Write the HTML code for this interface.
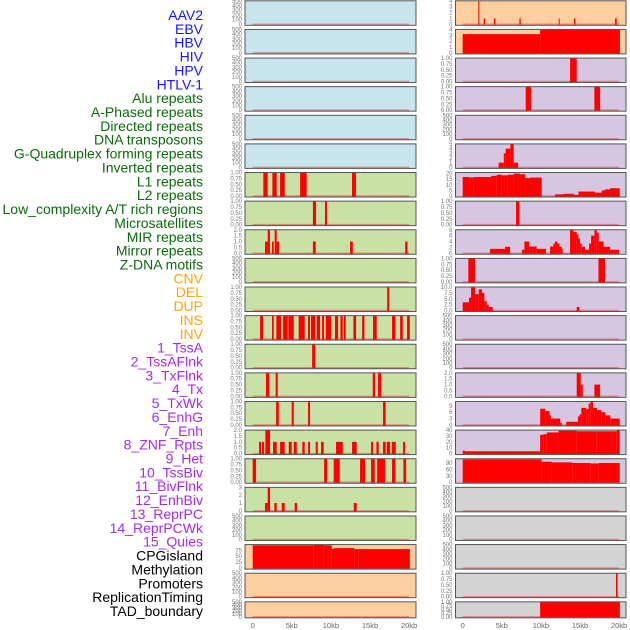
<!DOCTYPE html>
<html><head><meta charset="utf-8"><style>
html,body{margin:0;padding:0;background:#fff;width:630px;height:630px;overflow:hidden}
svg{display:block}
.lbl{font-family:"Liberation Sans",sans-serif;font-size:14px}
.tk{font-family:"Liberation Sans",sans-serif;font-size:6px;fill:#777}
.xt{font-family:"Liberation Sans",sans-serif;font-size:7.5px;fill:#666}
</style></head><body>
<svg id="chart" width="630" height="630" viewBox="0 0 630 630"></svg>
<script>
const NS='http://www.w3.org/2000/svg';
const svg=document.getElementById('chart');

const labelTexts=['AAV2','EBV','HBV','HIV','HPV','HTLV-1','Alu repeats','A-Phased repeats','Directed repeats','DNA transposons','G-Quadruplex forming repeats','Inverted repeats','L1 repeats','L2 repeats','Low_complexity A/T rich regions','Microsatellites','MIR repeats','Mirror repeats','Z-DNA motifs','CNV','DEL','DUP','INS','INV','1_TssA','2_TssAFlnk','3_TxFlnk','4_Tx','5_TxWk','6_EnhG','7_Enh','8_ZNF_Rpts','9_Het','10_TssBiv','11_BivFlnk','12_EnhBiv','13_ReprPC','14_ReprPCWk','15_Quies','CPGisland','Methylation','Promoters','ReplicationTiming','TAD_boundary'];
const labelGroups=[6,13,5,15,5];
const groupColors=['#1515ff','#0b6b0b','#ffa500','#a52af0','#000000'];

const xTicks=[0,5,10,15,20];
const xTickLabels=['0','5kb','10kb','15kb','20kb'];

// left column tracks: [start kb, end kb, value]
const L0=[],L1=[],L2=[],L3=[],L4=[],L5=[];
const L6=[[1.36,1.92,1],[2.52,3.07,1],[3.5,4.1,1],[6.06,6.9,1],[12.7,13.2,1]];
const L7=[[7.7,8.1,1],[9.25,9.5,1]];
const L8=[[1.58,1.92,1],[1.92,2.2,2],[2.47,2.69,1],[2.81,3.07,2],[3.07,3.37,1],[7.7,8.06,1],[12.45,12.8,1],[19.5,19.8,1]];
const L9=[];
const L10=[[17.2,17.45,1]];
const L11=[[0.94,1.32,1],[2.47,2.69,1],[3.03,3.62,1],[3.88,4.48,1],[4.56,5.25,1],[5.88,6.65,1],[7.08,7.33,1],[7.46,8.02,1],[8.19,8.61,1],[8.87,9.13,1],[9.34,10.02,1],[10.53,10.92,1],[11.22,11.51,1],[11.64,11.9,1],[12.88,13.22,1],[13.99,14.29,1],[15.39,15.86,1],[17.82,18.25,1],[18.85,19.19,1],[19.74,20.09,1]];
const L12=[[7.6,8.0,1]];
const L13=[[1.7,2.1,1],[2.94,3.2,1],[15.35,15.65,1],[16.03,16.42,1]];
const L14=[[2.99,3.33,1],[4.99,5.25,1],[7.08,7.33,1],[16.67,17.0,1]];
const L15=[[0.81,1.07,1],[1.19,1.45,1],[1.62,2.22,2],[2.6,3.07,1],[3.5,4.09,1],[4.61,4.99,1],[5.25,5.63,1],[6.35,6.65,1],[7.08,7.33,1],[8.06,8.32,1],[8.74,9.08,1],[10.66,11.51,1],[12.71,13.3,1],[15.14,15.39,1],[15.82,16.12,1],[16.67,17.01,1],[17.14,17.57,1],[17.78,18.29,1],[19.23,19.49,1]];
const L16=[[0,0.43,1],[9.13,9.51,1],[10.36,11.13,1],[13.73,14.37,1],[15.14,15.61,1],[15.91,16.93,1],[17.82,18.25,1],[19.27,19.62,1]];
const L17=[[1.58,1.92,1],[1.92,2.22,3],[2.77,3.07,1],[3.71,4.09,1],[5.37,5.67,1],[12.92,13.3,1]];
const L18=[];
const L19=[[0,7.8,96],[7.8,9.1,99],[9.1,10.1,96],[10.1,10.4,81],[10.4,13.0,84],[13.0,13.5,80],[13.5,20.1,80]];
const L20=[],L21=[];

// right column tracks
const R0=[[2.0,2.13,4],[2.69,2.86,1],[4.0,4.18,1],[7.25,7.42,1],[12.28,12.4,1],[14.24,14.41,1],[19.49,19.7,1]];
const R1=[[0,9.9,3.2],[9.9,20.1,4]];
const R2=[[13.73,14.58,1]];
const R3=[[8.06,8.74,1],[16.84,17.57,1]];
const R4=[];
const R5=[[4.6,5.25,1],[5.25,5.5,3],[5.5,6.1,4],[6.1,6.52,5],[6.52,7.08,1]];
const R6=[[0,0.81,17],[0.81,1.36,16.5],[1.36,3.62,17],[3.62,4.35,18],[4.35,4.99,19],[4.99,5.76,18.5],[5.76,6.48,19],[6.48,7.33,20],[7.33,8.02,19.5],[8.02,8.61,16],[8.61,10.1,16.5],[11.81,12.88,1.5],[12.88,14.24,2],[14.24,14.8,1],[14.8,16.93,4],[16.93,17.78,3],[17.78,18.2,5],[18.2,18.85,6],[18.85,20.08,7]];
const R7=[[6.82,7.25,1]];
const R8=[[3.5,5.42,1.5],[5.42,6.06,2.2],[7.59,7.89,1.2],[7.89,8.49,4],[8.49,8.96,2.3],[8.96,9.47,2.3],[9.47,10.66,1.5],[11.17,11.6,2.3],[11.6,11.81,3.3],[11.81,12.11,4],[12.11,12.37,3.3],[12.37,12.67,2.2],[12.67,12.79,1.5],[13.73,14.16,8],[14.16,14.58,7.3],[14.58,14.8,6.5],[14.8,15.01,5],[15.01,15.22,3.3],[15.22,15.65,2.2],[15.65,16.16,1.2],[16.16,16.42,3.3],[16.42,16.84,6],[16.84,17.14,8],[17.14,17.4,7],[17.4,18.0,4],[18.0,18.85,2.2],[18.85,20.0,1.2]];
const R9=[[0.72,1.58,1],[17.36,18.2,1]];
const R10=[[0,0.81,3.5],[0.81,1.07,5.5],[1.07,1.58,10],[1.58,2.05,7],[2.05,2.47,9],[2.47,2.77,7.5],[2.77,3.07,4],[3.07,3.33,2.5],[3.33,3.84,1.5],[14.58,14.93,1.5]];
const R11=[],R12=[];
const R13=[[14.58,15.1,2],[15.1,15.35,1],[16.84,17.57,1]];
const R14=[[9.91,10.55,7.6],[10.55,11.1,6.5],[11.1,11.28,4.5],[11.28,12.47,3],[12.47,12.68,1],[13.24,14.74,1.5],[14.74,14.95,4],[14.95,15.17,5],[15.17,15.81,8],[15.81,16.1,7.5],[16.1,16.32,10],[16.32,16.66,11],[16.66,17.18,8],[17.18,17.73,7],[17.73,18.24,6],[18.24,18.88,4.5],[18.88,20.08,3]];
const R15=[[0,0.3,5],[0.3,9.9,4],[9.9,10.3,32],[10.3,10.75,33],[10.75,12.24,36],[12.24,14.58,39],[14.58,17.14,38],[17.14,19.7,38],[19.7,20.08,40]];
const R16=[[0,10.1,107],[10.1,11.4,96],[11.4,14.0,93],[14.0,16.3,90],[16.3,17.4,88],[17.4,20.08,90]];
const R17=[],R18=[],R19=[];
const R20=[[19.6,19.8,1]];
const R21=[[9.9,20.1,1]];

const leftTracks=[L0,L1,L2,L3,L4,L5,L6,L7,L8,L9,L10,L11,L12,L13,L14,L15,L16,L17,L18,L19,L20,L21];
const rightTracks=[R0,R1,R2,R3,R4,R5,R6,R7,R8,R9,R10,R11,R12,R13,R14,R15,R16,R17,R18,R19,R20,R21];
const leftYmax=[500,500,500,500,500,500,1,1,2,500,1,1,1,1,1,2,1,3,500,99,500,500];
const rightYmax=[4,4,1,1,500,5,21,1,8,1,10,500,500,2,11,40,110,500,500,500,1,1];
const leftTickSets=['k','k','k','k','k','k','u','u','d','k','u','u','u','u','u','d','u','t','k','p','k','k'];
const rightTickSets=['f','f','u','u','k','5','20','u','8','u','10','k','k','d','9','40','90','k','k','k','u','u'];
const tickSets={
 k:[[0,100,200,300,400,500],['0','100','200','300','400','500']],
 u:[[0,0.25,0.5,0.75,1],['0.00','0.25','0.50','0.75','1.00']],
 d:[[0,0.5,1,1.5,2],['0.0','0.5','1.0','1.5','2.0']],
 t:[[0,1,2,3],['0','1','2','3']],
 p:[[0,25,50,75],['0','25','50','75']],
 f:[[0,1,2,3,4],['0','1','2','3','4']],
 '5':[[0,1,2,3,4,5],['0','1','2','3','4','5']],
 '20':[[0,5,10,15,20],['0','5','10','15','20']],
 '8':[[0,2,4,6,8],['0','2','4','6','8']],
 '10':[[0,2.5,5,7.5,10],['0.0','2.5','5.0','7.5','10.0']],
 '9':[[0,3,6,9],['0','3','6','9']],
 '40':[[0,10,20,30,40],['0','10','20','30','40']],
 '90':[[0,30,60,90],['0','30','60','90']]
};
const leftBg=['b','b','b','b','b','b','g','g','g','g','g','g','g','g','g','g','g','g','g','o','o','o'];
const rightBg=['o','o','p','p','p','p','p','p','p','p','p','p','p','p','p','p','p','x','x','x','x','x'];
const bgColors={b:'#c8e4ec',g:'#c9e1a5',o:'#fecf9e',p:'#d6c6e2',x:'#d3d3d3'};

function mk(tag,attrs,parent){const e=document.createElementNS(NS,tag);for(const k in attrs)e.setAttribute(k,attrs[k]);(parent||svg).appendChild(e);return e;}

// labels
let li=0;
labelGroups.forEach((n,gi)=>{for(let j=0;j<n;j++){
  const t=mk('text',{x:203,y:15+li*13.86+5,'text-anchor':'end',class:'lbl',fill:groupColors[gi]});
  t.textContent=labelTexts[li];
  
  
  li++;
}});

const cols=[{x0:245,x1:416,zero:252.7,tracks:leftTracks,ymax:leftYmax,ticks:leftTickSets,bg:leftBg,name:'left'},
            {x0:455.5,x1:626,zero:462.7,tracks:rightTracks,ymax:rightYmax,ticks:rightTickSets,bg:rightBg,name:'right'}];
const kbPx=7.82;

cols.forEach(c=>{
  const xs=kb=>c.zero+kb*kbPx;
  c.tracks.forEach((data,i)=>{
    const top=0.8+i*28.62;
    const h=(i===21)?16:24.5;
    const bottom=top+h;
    const ymax=c.ymax[i];
    const ys=v=>bottom-1-(v/ymax)*(h-1);
    const g=mk('g',{});
    
    
    const bg=mk('rect',{x:c.x0,y:top,width:c.x1-c.x0,height:h,fill:bgColors[c.bg[i]],stroke:'none'},g);
    
    
    const base=mk('line',{x1:xs(0),x2:xs(20),y1:bottom-1,y2:bottom-1,stroke:'rgba(230,40,40,0.45)','stroke-width':1.5},g);
    
    
    data.forEach(s=>{
      const r=mk('rect',{x:xs(s[0]),y:ys(s[2]),width:Math.max(0.8,xs(s[1])-xs(s[0])),height:(bottom-1)-ys(s[2])+0.5,fill:'#ff0000'},g);
      
      
    });
    const fr=mk('rect',{x:c.x0,y:top,width:c.x1-c.x0,height:h,fill:'none',stroke:'#555','stroke-width':1},g);
    
    
    const ts=tickSets[c.ticks[i]];
    ts[0].forEach((v,k)=>{
      if(v>ymax*1.02)return;
      const t=mk('text',{x:c.x0-3,y:ys(v)+2,'text-anchor':'end',class:'tk'},g);
      t.textContent=ts[1][k];
      
      
    });
  });
  xTicks.forEach((v,k)=>{
    const t=mk('text',{x:xs(v),y:628,'text-anchor':'middle',class:'xt'});
    t.textContent=xTickLabels[k];
    
    
  });
});
</script>
</body></html>
